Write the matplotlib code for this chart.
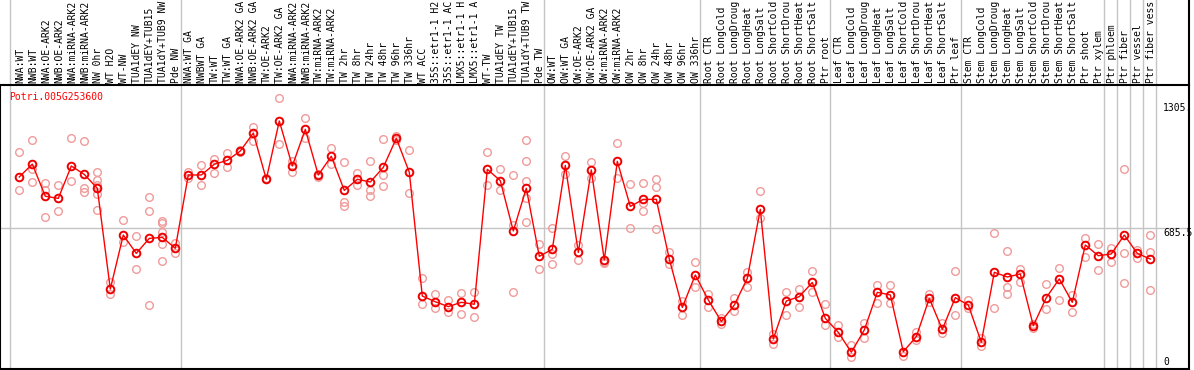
import matplotlib
matplotlib.use("Agg")
import matplotlib.pyplot as plt
from matplotlib.transforms import blended_transform_factory
from matplotlib.lines import Line2D

# sample names (the chart only shows the first 14 characters of each)
labels = [
    "NWA:WT", "NWB:WT", "NWA:OE-ARK2", "NWB:OE-ARK2", "NWA:miRNA-ARK2",
    "NWB:miRNA-ARK2", "NW 0hr", "WT H2O", "WT-NW", "TUA1dEY NW",
    "TUA1dEY+TUB15 NW", "TUA1dY+TUB9 NW", "Pde NW",
    "NWA:WT GA", "NWBWT GA", "TW:WT", "TW:WT GA", "NWA:OE-ARK2 GA",
    "NWB:OE-ARK2 GA", "TW:OE-ARK2", "TW:OE-ARK2 GA", "NWA:miRNA-ARK2 GA",
    "NWB:miRNA-ARK2 GA", "TW:miRNA-ARK2", "TW:miRNA-ARK2 GA", "TW 2hr",
    "TW 8hr", "TW 24hr", "TW 48hr", "TW 96hr", "TW 336hr", "WT ACC",
    "35S::etr1-1 H2O", "35S::etr1-1 ACC", "LMX5::etr1-1 H2O",
    "LMX5::etr1-1 ACC", "WT-TW", "TUA1dEY TW", "TUA1dEY+TUB15 TW",
    "TUA1dY+TUB9 TW", "Pde TW",
    "OW:WT", "OW:WT GA", "OW:OE-ARK2", "OW:OE-ARK2 GA", "OW:miRNA-ARK2",
    "OW:miRNA-ARK2 GA", "OW 2hr", "OW 8hr", "OW 24hr", "OW 48hr", "OW 96hr",
    "OW 336hr",
    "Root CTR", "Root LongCold", "Root LongDrought", "Root LongHeat",
    "Root LongSalt", "Root ShortCold", "Root ShortDrought", "Root ShortHeat",
    "Root ShortSalt", "Ptr root",
    "Leaf CTR", "Leaf LongCold", "Leaf LongDrought", "Leaf LongHeat",
    "Leaf LongSalt", "Leaf ShortCold", "Leaf ShortDrought", "Leaf ShortHeat",
    "Leaf ShortSalt", "Ptr leaf",
    "Stem CTR", "Stem LongCold", "Stem LongDrought", "Stem LongHeat",
    "Stem LongSalt", "Stem ShortCold", "Stem ShortDrought", "Stem ShortHeat",
    "Stem ShortSalt", "Ptr shoot", "Ptr xylem",
    "Ptr phloem", "Ptr fiber", "Ptr vessel", "Ptr fiber vessel",
]

# mean expression per sample
means = [
    949, 1015, 850, 839, 1005, 962, 891, 374, 651, 557, 634, 639, 583,
    959, 959, 1014, 1034, 1082, 1174, 937, 1236, 1005, 1193, 959, 1055,
    880, 937, 923, 998, 1147, 973, 338, 309, 284, 306, 296, 988, 930, 672,
    891, 542,
    578, 1008, 562, 985, 523, 1029, 798, 834, 834, 528, 280, 446,
    318, 208, 292, 429, 783, 118, 313, 335, 408, 224,
    152, 50, 164, 357, 344, 53, 130, 326, 167, 330,
    292, 101, 460, 436, 451, 186, 330, 426, 306, 600, 545,
    554, 651, 557, 528,
]

# individual replicates per sample
reps = [
    [1075, 880], [1138, 990, 921], [916, 882, 742], [906, 774], [1147, 930],
    [1133, 891, 870], [973, 933, 908, 860, 778], [408, 347], [728, 614],
    [646, 477], [844, 774, 292], [723, 711, 668, 603, 518], [609, 561],
    [973, 945], [1010, 908], [1041, 967], [1070, 1002], [1087, 1079],
    [1205, 1133], [942], [1352, 1116], [1031, 973], [1250, 1147],
    [962, 950], [1096, 1015], [1024, 822, 800], [967, 908],
    [1029, 880, 851], [1144, 959, 901], [1161, 1138], [1087, 865],
    [429, 296], [347, 279], [318, 258], [352, 246], [361, 229],
    [1075, 908], [988, 880], [959, 703, 357], [1137, 1029, 930, 839, 716],
    [603, 477],
    [685, 556, 501], [1056, 962], [600, 521], [1027, 945], [514, 506],
    [1121, 942], [911, 685], [916, 814, 776], [937, 896, 682], [566, 501],
    [313, 241], [511, 385],
    [347, 284], [227, 193], [326, 263], [460, 385], [875, 740], [142, 94],
    [361, 241], [374, 282], [467, 361], [296, 190],
    [190, 130], [87, 27], [198, 121], [395, 301], [395, 301], [32],
    [156, 113], [347, 309], [198, 147], [467, 241],
    [318, 275], [121, 84], [660, 275], [569, 385, 347], [477, 408],
    [193, 173], [398, 272], [480, 318], [344, 255], [634, 540], [603, 470],
    [586, 511], [990, 561, 403], [574, 535], [651, 566, 369],
]

group_ends = [12, 40, 52, 62, 72, 83, 84, 85, 86, 87]
gene = "Potri.005G253600"
tick_vals = [1305, 685.5, 0]
tick_txt = ["1305.", "685.5", "0"]

W, H = 1194, 370
fig = plt.figure(figsize=(W / 100, H / 100), dpi=100)
ax = fig.add_axes([0, 1 / H, 1189 / W, 284 / H])

x = list(range(len(means)))
ax.set_xlim(-19.3 / 13, (1189 - 19.3) / 13)
ax.set_ylim(-36, 1420.5)
ax.set_xticks([])
ax.set_yticks([])
for s in ax.spines.values():
    s.set_linewidth(1.5)
    s.set_color("black")

grey = "#c4c4c4"
ax.axhline(685.5, color=grey, lw=1.0, zorder=1)

# vertical separators go up through the label area
tr = blended_transform_factory(ax.transData, fig.transFigure)
for b in [-0.7] + [g + 0.4 for g in group_ends]:
    ax.plot([b, b], [1 / H, 1], color=grey, lw=1.0, transform=tr,
            clip_on=False, zorder=1)
fig.add_artist(Line2D([1189 / W, 1189 / W], [285 / H, 1], color="black",
                      lw=1.5, transform=fig.transFigure))

# replicates
for i, rs in enumerate(reps):
    ax.plot([i] * len(rs), rs, "o", ms=5.5, mfc="none", mec="#f09a9a",
            mew=1.0, zorder=2)

# means
ax.plot(x, means, "-", color="#ff0000", lw=1.0, zorder=3)
ax.plot(x, means, "o", ms=5.5, mfc="none", mec="#ee0000", mew=1.4, zorder=4)

mono = "DejaVu Sans Mono"
for i, lab in enumerate(labels):
    ax.text(i + 0.05, 287 / H, lab[:14].rstrip(), transform=tr, rotation=90,
            rotation_mode="anchor", ha="left", va="center",
            fontsize=7, family=mono, clip_on=False)

ytr = blended_transform_factory(ax.transAxes, ax.transData)
ax.text(9 / 1189, 1357, gene, transform=ytr, color="#ff0000", fontsize=7,
        family=mono, ha="left", va="center")

for v, t in zip(tick_vals, tick_txt):
    ax.text(1163 / 1189, v, t, transform=ytr, fontsize=7, family=mono,
            ha="left", va="top" if t == "685.5" else "center")

fig.savefig("out.png", dpi=100)
